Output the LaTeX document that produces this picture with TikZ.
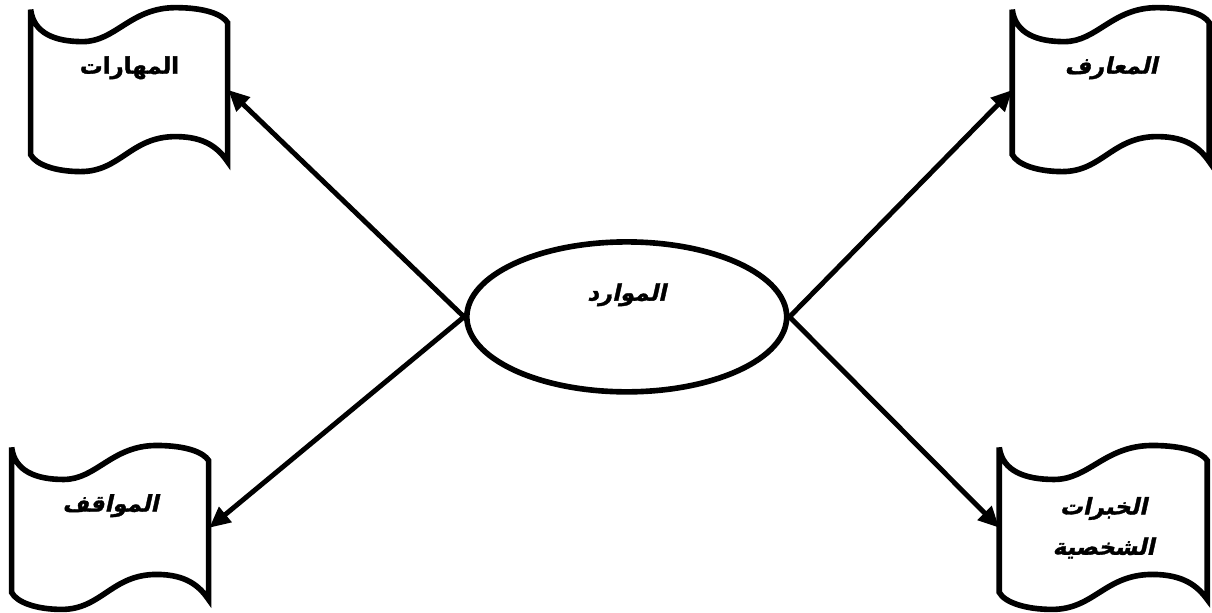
\documentclass[tikz,border=0pt]{standalone}
\usepackage{fontspec}
\newfontfamily\arabicfont[Script=Arabic,BoldFeatures={FakeBold=1.5},
  BoldItalicFont={DejaVu Sans Bold},BoldItalicFeatures={FakeSlant=0.22,FakeBold=1.5}]{DejaVu Sans}
\TeXXeTstate=1
\usetikzlibrary{shapes.geometric,arrows.meta}

\newcommand\flagedge[2][1]{%
  \draw[flagline,shift={(#2.north west)},xscale=#1] (0,0)
    .. controls (0.06,-0.48) and (0.5,-0.64) .. (1.04,-0.64)
    .. controls (1.7,-0.64) and (2.0,0.04) .. (2.9,0.04)
    .. controls (3.5,0.04) and (3.84,-0.1) .. (3.94,-0.26) -- (3.94,-3.04)
    .. controls (3.76,-2.78) and (3.5,-2.54) .. (2.9,-2.54)
    .. controls (2.0,-2.54) and (1.8,-3.24) .. (1.0,-3.24)
    .. controls (0.5,-3.24) and (0.1,-3.1) .. (0,-2.9) -- cycle;}

\begin{document}
\begin{tikzpicture}[font=\arabicfont\bfseries\fontsize{13}{16}\selectfont]
  \tikzset{
    flag/.style={minimum width=3.94cm,minimum height=3.2cm,inner sep=0pt,align=center},
    flagline/.style={draw=black,line width=3.2pt},
    uptext/.style={text height=0.4cm,text depth=1.05cm},
    link/.style={line width=2.8pt,-{Triangle[length=0.42cm,width=0.38cm]}}
  }
  \node[ellipse,draw,line width=3.2pt,minimum width=6.4cm,minimum height=3.0cm,
    inner sep=0pt,uptext] (res) at (12.54,-6.34) {\itshape\beginR الموارد\endR};
  \node[flag,uptext] (skills) at (2.59,-1.8) {\beginR المهارات\endR};
  \node[flag,uptext] (know) at (22.23,-1.8) {\itshape\beginR المعارف\endR};
  \node[flag,uptext] (situ) at (2.21,-10.56) {\itshape\beginR المواقف\endR};
  \node[flag,minimum width=4.16cm] (expe) at (22.08,-10.56)
    {\itshape\beginR الخبرات\endR\\[7pt]\itshape\beginR الشخصية\endR};
  \flagedge{skills}
  \flagedge{know}
  \flagedge{situ}
  \flagedge[1.056]{expe}
  \draw[link] (res.west) -- (skills.east);
  \draw[link] (res.west) -- (situ.east);
  \draw[link] (res.east) -- (know.west);
  \draw[link] (res.east) -- (expe.west);
  \path[use as bounding box] (0,0) rectangle (24.24,-12.24);
\end{tikzpicture}
\end{document}
